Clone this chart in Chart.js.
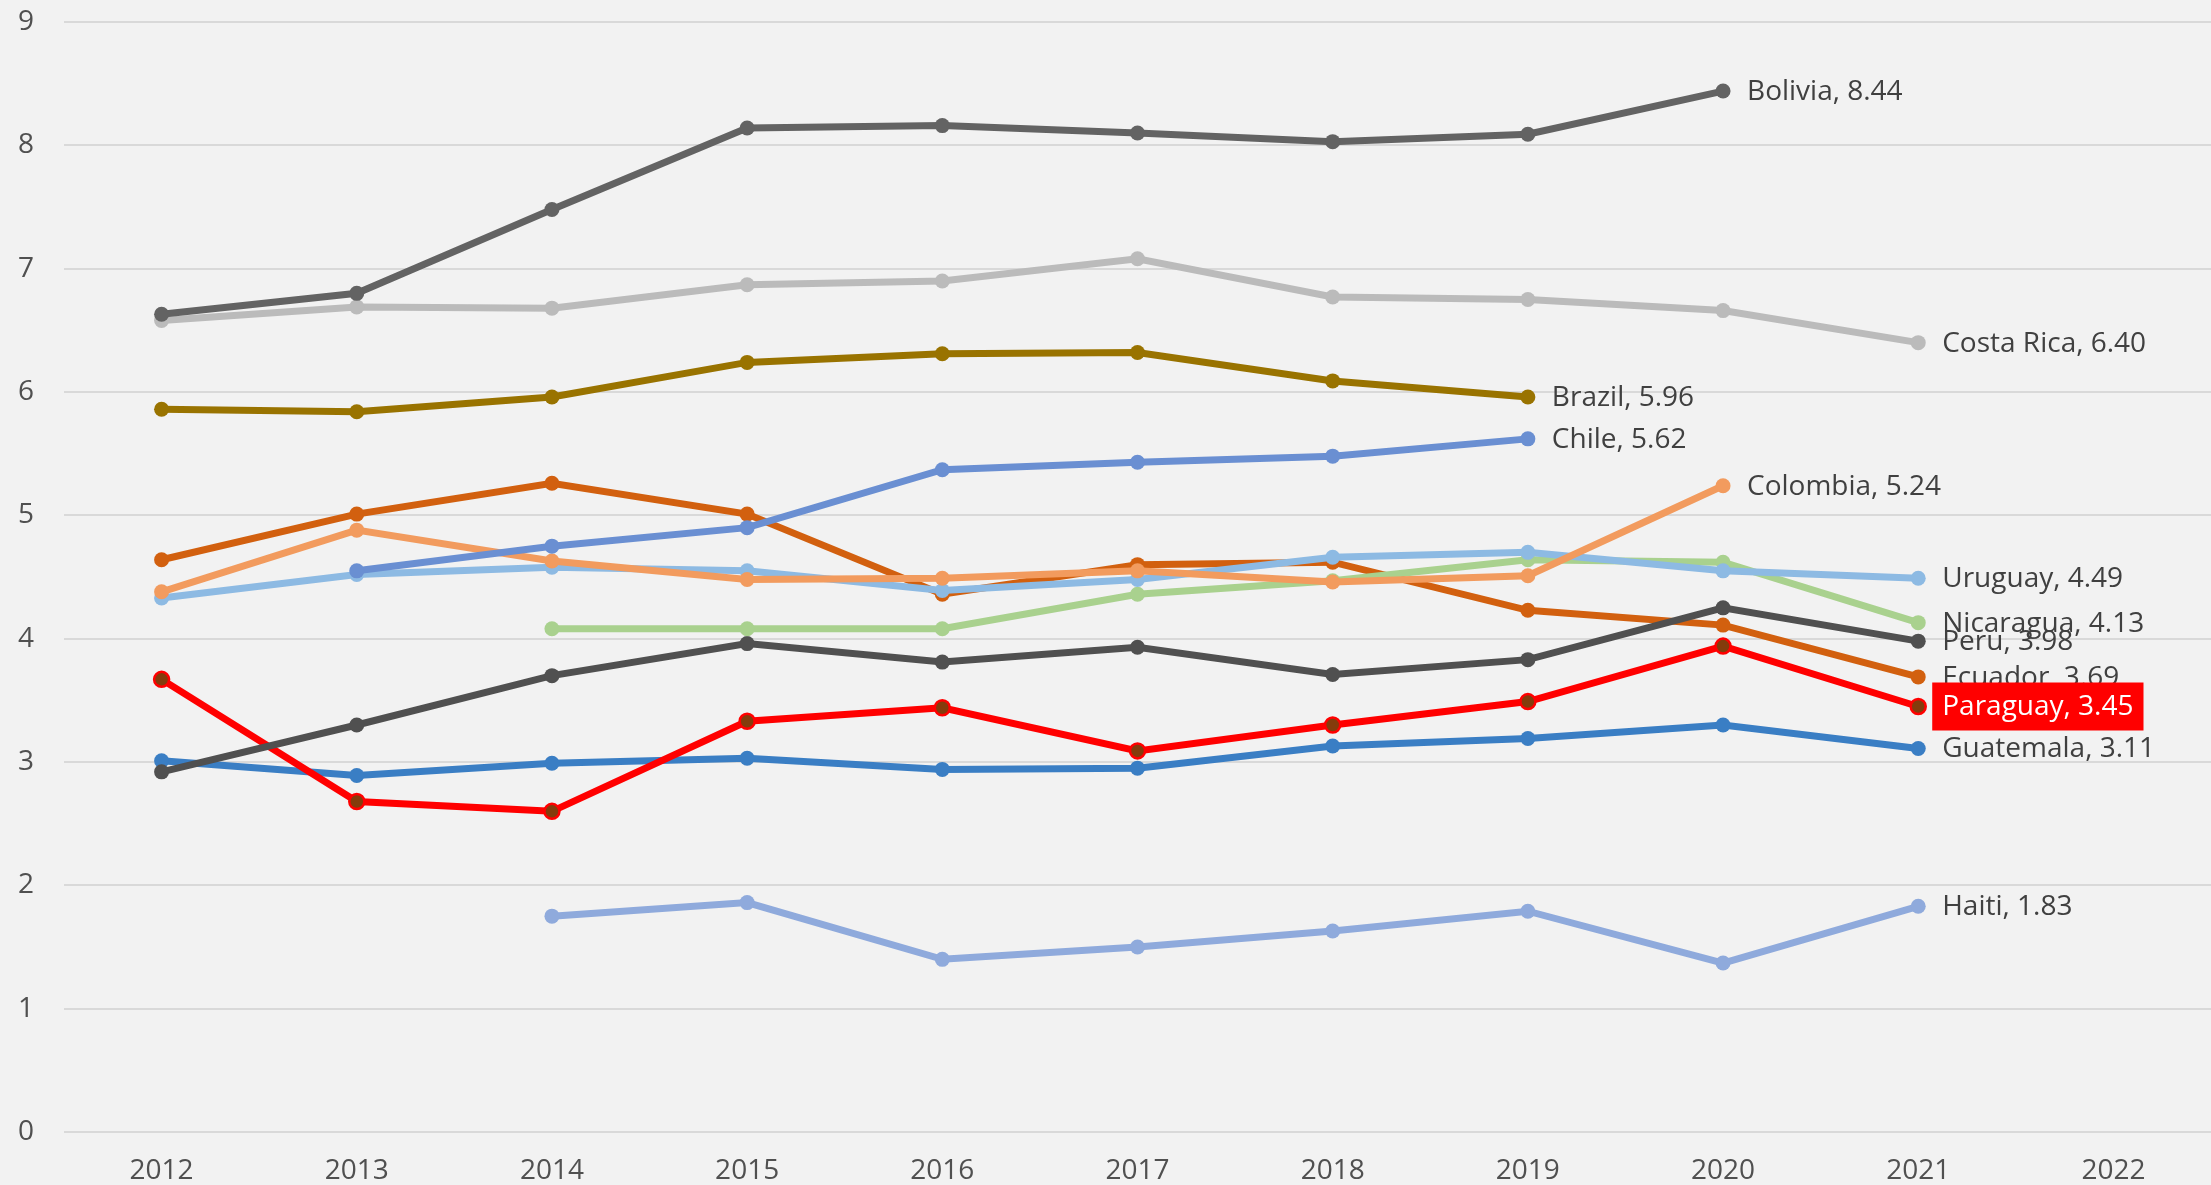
<!DOCTYPE html>
<html>
<head>
<meta charset="utf-8">
<script src="https://cdn.jsdelivr.net/npm/chart.js@4.4.0/dist/chart.umd.min.js"></script>
<style>
    html, body { margin: 0; padding: 0; background: #F2F2F2; }
    #wrap { width: 2211px; height: 1185px; position: relative; }
</style>
</head>
<body>
<div id="wrap"><canvas id="grafico"></canvas></div>
<script>
var anos = ['2012', '2013', '2014', '2015', '2016', '2017', '2018', '2019', '2020', '2021', '2022'];
var yTicks = [0, 1, 2, 3, 4, 5, 6, 7, 8, 9];

var bolivia    = [6.63, 6.80, 7.48, 8.14, 8.16, 8.10, 8.03, 8.09, 8.44, null, null];
var costaRica  = [6.58, 6.69, 6.68, 6.87, 6.90, 7.08, 6.77, 6.75, 6.66, 6.40, null];
var brazil     = [5.86, 5.84, 5.96, 6.24, 6.31, 6.32, 6.09, 5.96, null, null, null];
var chile      = [null, 4.55, 4.75, 4.90, 5.37, 5.43, 5.48, 5.62, null, null, null];
var colombia   = [4.38, 4.88, 4.63, 4.48, 4.49, 4.55, 4.46, 4.51, 5.24, null, null];
var uruguay    = [4.33, 4.52, 4.58, 4.55, 4.39, 4.48, 4.66, 4.70, 4.55, 4.49, null];
var nicaragua  = [null, null, 4.08, 4.08, 4.08, 4.36, 4.47, 4.64, 4.62, 4.13, null];
var peru       = [2.92, 3.30, 3.70, 3.96, 3.81, 3.93, 3.71, 3.83, 4.25, 3.98, null];
var ecuador    = [4.64, 5.01, 5.26, 5.01, 4.36, 4.60, 4.62, 4.23, 4.11, 3.69, null];
var paraguay   = [3.67, 2.68, 2.60, 3.33, 3.44, 3.09, 3.30, 3.49, 3.94, 3.45, null];
var guatemala  = [3.01, 2.89, 2.99, 3.03, 2.94, 2.95, 3.13, 3.19, 3.30, 3.11, null];
var haiti      = [null, null, 1.75, 1.86, 1.40, 1.50, 1.63, 1.79, 1.37, 1.83, null];

var paises = ['Bolivia', 'Costa Rica', 'Brazil', 'Chile', 'Colombia', 'Uruguay', 'Nicaragua', 'Peru', 'Ecuador', 'Paraguay', 'Guatemala', 'Haiti'];
var valores = [bolivia, costaRica, brazil, chile, colombia, uruguay, nicaragua, peru, ecuador, paraguay, guatemala, haiti];
var cores = ['#636363', '#BBBBBB', '#997300', '#6A8FD2', '#F29B5E', '#8DBAE3', '#A9D18E', '#505050', '#D2600F', '#FF0000', '#3A7EC4', '#8FAADC'];

var fonte = "'Open Sans', sans-serif";

var datasets = [];
for (let i = 0; i < paises.length; i++) {
    var destaque = paises[i] == 'Paraguay';
    datasets.push({
        label: paises[i],
        data: valores[i],
        borderColor: cores[i],
        backgroundColor: cores[i],
        borderWidth: 7,
        pointRadius: 7.5,
        pointHoverRadius: 7.5,
        pointBackgroundColor: destaque ? '#843C0C' : cores[i],
        pointBorderColor: cores[i],
        pointBorderWidth: destaque ? 2.5 : 0,
        tension: 0
    });
}

// rotulo "Pais, valor" ao lado do ultimo ponto de cada serie
var rotulos = {
    id: 'rotulos',
    afterDatasetsDraw: function (chart) {
        var ctx = chart.ctx;
        ctx.save();
        ctx.font = "28px " + fonte;
        ctx.textBaseline = 'middle';
        ctx.textAlign = 'left';
        chart.data.datasets.forEach(function (ds, i) {
            var ult = -1;
            for (let k = 0; k < ds.data.length; k++) {
                if (ds.data[k] != null) ult = k;
            }
            if (ult < 0) return;
            var pt = chart.getDatasetMeta(i).data[ult];
            var texto = ds.label + ', ' + ds.data[ult].toFixed(2);
            var x = pt.x + 24;
            var y = pt.y;
            if (ds.label == 'Paraguay') {
                var w = ctx.measureText(texto).width;
                ctx.fillStyle = '#FF0000';
                ctx.fillRect(x - 10, y - 24, w + 20, 48);
                ctx.fillStyle = '#FFFFFF';
            } else {
                ctx.fillStyle = '#404040';
            }
            ctx.fillText(texto, x, y + 1);
        });
        ctx.restore();
    }
};

var grafico = new Chart(document.getElementById('grafico'), {
    type: 'line',
    data: {
        labels: anos,
        datasets: datasets
    },
    plugins: [rotulos],
    options: {
        responsive: true,
        maintainAspectRatio: false,
        animation: false,
        events: [],
        layout: {
            autoPadding: false,
            padding: { top: 22, right: 0, left: 0, bottom: 0 }
        },
        plugins: {
            legend: { display: false },
            tooltip: { enabled: false }
        },
        scales: {
            x: {
                offset: true,
                grid: { display: false },
                border: { display: false },
                ticks: {
                    color: '#505050',
                    font: { family: fonte, size: 28 },
                    padding: 14,
                    maxRotation: 0
                },
                afterFit: function (scale) {
                    scale.height = 53;
                    scale.paddingLeft = 0;
                    scale.paddingRight = 0;
                }
            },
            y: {
                min: 0,
                max: 9,
                border: { display: false },
                grid: { color: '#D9D9D9', lineWidth: 2, drawTicks: false },
                afterBuildTicks: function (scale) {
                    scale.ticks = yTicks.map(function (v) { return { value: v }; });
                },
                ticks: {
                    color: '#505050',
                    font: { family: fonte, size: 28 },
                    padding: 30
                },
                afterFit: function (scale) {
                    scale.width = 64;
                    scale.paddingTop = 0;
                    scale.paddingBottom = 0;
                }
            }
        }
    }
});
</script>
</body>
</html>
